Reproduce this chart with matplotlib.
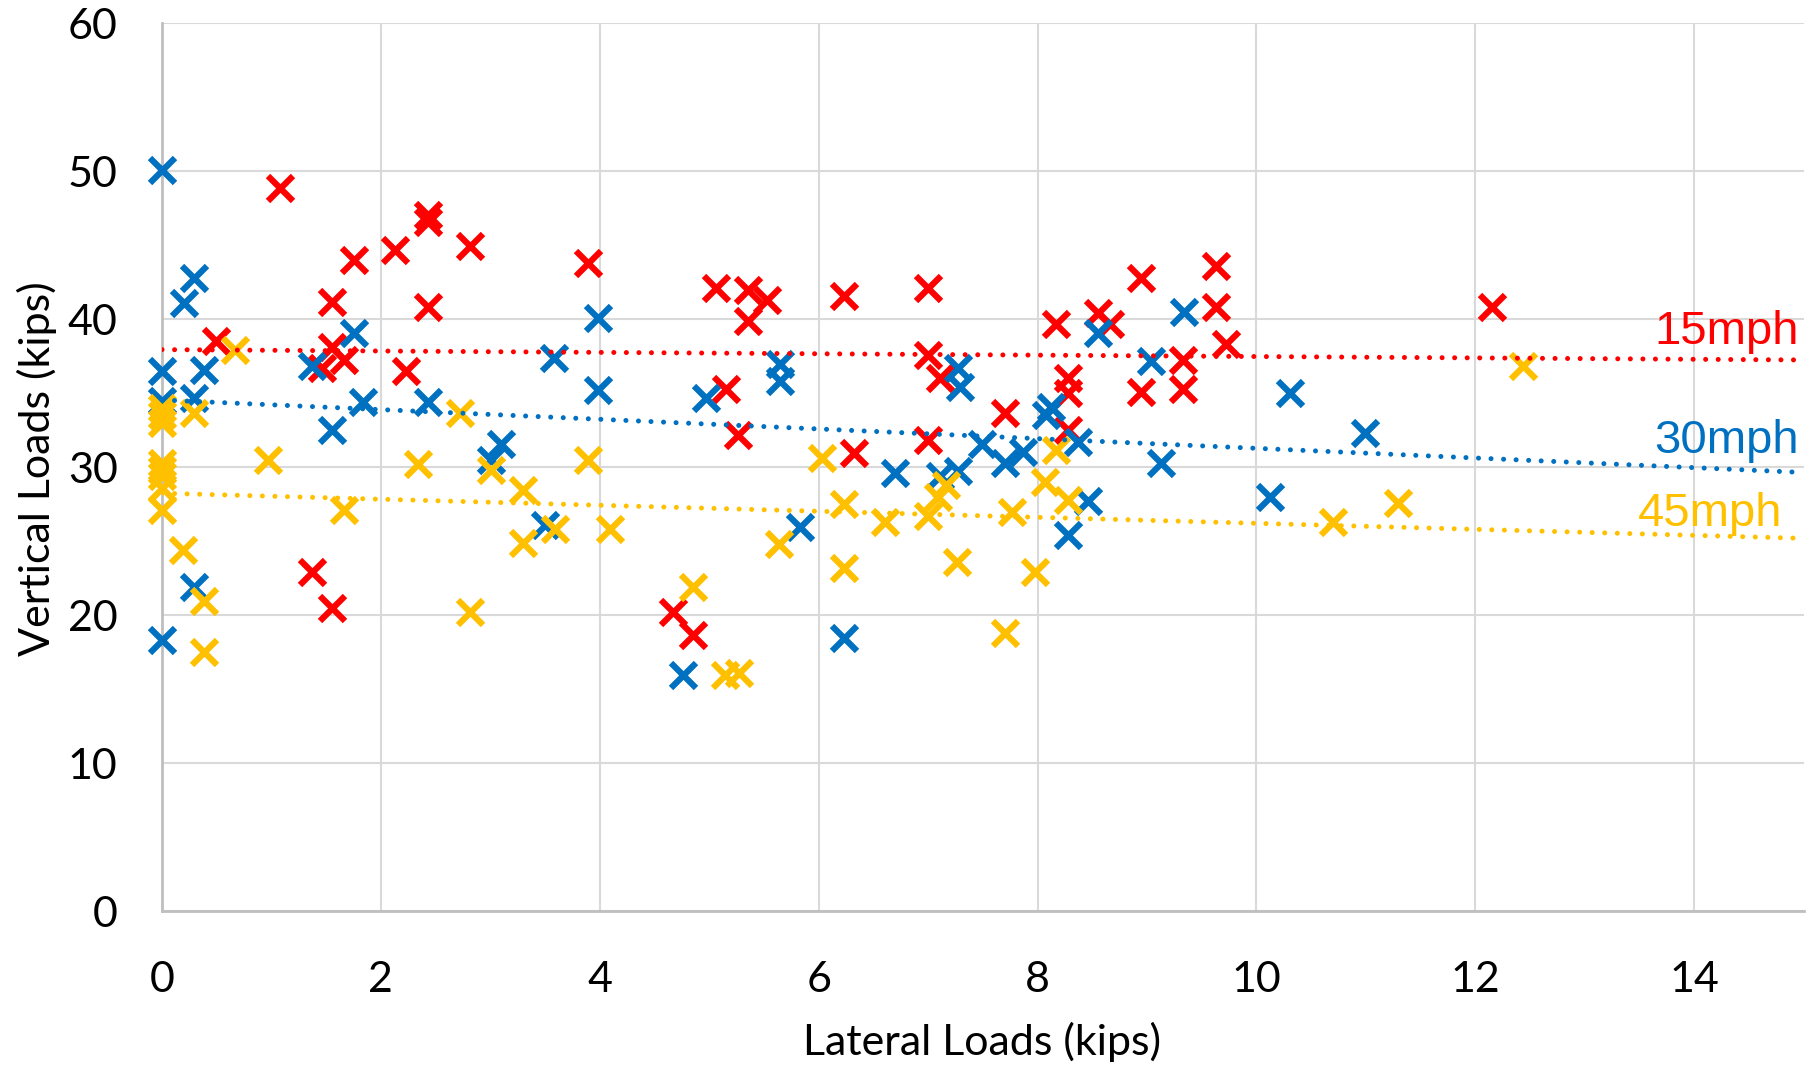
import matplotlib
matplotlib.use("Agg")
import matplotlib.pyplot as plt
import numpy as np

# ---------------- data ----------------
x_15 = [1.08, 2.43, 2.43, 2.81, 2.13, 1.75, 1.55, 2.43, 0.49, 1.55, 1.66, 1.46, 2.23, 1.37, 1.55,
        3.89, 5.06, 5.35, 5.53, 5.35, 6.23, 7.00, 7.00, 7.11, 5.15, 5.26, 7.00, 6.32, 4.67, 4.85,
        8.95, 9.63, 9.63, 8.17, 8.55, 8.66, 9.72, 9.33, 8.95, 9.33, 8.28, 8.28, 7.70, 8.28, 12.15]
y_15 = [48.9, 47.05, 46.6, 44.96, 44.7, 44.0, 41.2, 40.8, 38.5, 38.15, 37.26, 36.7, 36.5, 22.95, 20.5,
        43.8, 42.1, 42.0, 41.3, 39.85, 41.6, 42.1, 37.6, 36.0, 35.3, 32.2, 31.85, 30.95, 20.25, 18.7,
        42.8, 43.6, 40.8, 39.7, 40.4, 39.7, 38.3, 37.26, 35.1, 35.3, 36.0, 35.0, 33.65, 32.5, 40.8]

x_30 = [0.00, 0.29, 0.20, 1.75, 1.37, 0.00, 0.38, 3.58, 0.00, 0.29, 1.84, 2.43, 1.55, 3.10, 3.01,
        0.29, 0.00, 3.50, 3.98, 3.98, 5.65, 5.65, 4.97, 7.27, 7.29, 6.70, 7.11, 7.27, 4.76, 5.83,
        6.23, 9.34, 8.55, 9.04, 10.31, 8.12, 8.08, 8.37, 7.49, 7.87, 7.70, 9.13, 8.46, 8.28, 10.12, 10.99]
y_30 = [50.1, 42.8, 41.1, 39.06, 36.85, 36.5, 36.6, 37.4, 34.5, 34.7, 34.4, 34.4, 32.5, 31.6, 30.5,
        21.9, 18.3, 26.1, 40.07, 35.2, 37.0, 35.8, 34.7, 36.7, 35.45, 29.6, 29.4, 29.75, 16.0, 26.0,
        18.5, 40.5, 39.06, 37.2, 35.0, 34.1, 33.5, 31.7, 31.6, 31.06, 30.3, 30.3, 27.7, 25.4, 28.0, 32.3]

x_45 = [0.67, 0.00, 0.00, 0.00, 0.29, 2.72, 3.01, 0.97, 2.34, 0.00, 0.00, 0.00, 3.30, 0.00, 0.00,
        1.66, 0.19, 0.38, 0.38, 2.81, 3.30, 3.59, 3.89, 4.09, 4.85, 5.14, 5.27, 5.64, 6.03, 6.23,
        6.23, 6.61, 7.00, 7.09, 7.16, 7.26, 8.17, 8.07, 8.28, 7.77, 7.98, 7.70, 10.70, 11.29, 12.44]
y_45 = [37.9, 34.0, 33.5, 33.0, 33.65, 33.65, 29.8, 30.5, 30.2, 30.3, 29.8, 29.4, 28.5, 28.6, 27.1,
        27.1, 24.4, 21.0, 17.5, 20.25, 24.9, 25.8, 30.5, 25.8, 21.9, 16.0, 16.1, 24.8, 30.6, 27.5,
        23.2, 26.3, 26.7, 28.0, 28.8, 23.6, 31.2, 29.0, 27.8, 27.0, 22.95, 18.8, 26.3, 27.6, 36.85]

# linear trend lines (value at x=0 and x=15)
trend_x = [0, 15]
trend_15 = [37.95, 37.25]
trend_30 = [34.55, 29.65]
trend_45 = [28.25, 25.2]

series_labels = ["15mph", "30mph", "45mph"]
x_ticks = [0, 2, 4, 6, 8, 10, 12, 14]
y_ticks = [0, 10, 20, 30, 40, 50, 60]

colors = ["#FF0000", "#0070C0", "#FFC000"]

# ---------------- plot ----------------
fig = plt.figure(figsize=(18.16, 10.67), dpi=100)
ax = fig.add_axes([162 / 1816, 1 - 911.4 / 1067, (1803.6 - 162) / 1816, (911.4 - 23.2) / 1067])

tick_font = "Lato"
for xs, ys, c in zip([x_15, x_30, x_45], [y_15, y_30, y_45], colors):
    ax.plot(xs, ys, linestyle="none", marker="x", markersize=18, markeredgewidth=4.5,
            color=c, zorder=3, clip_on=False)

for tr, c in zip([trend_15, trend_30, trend_45], colors):
    ax.plot(trend_x, tr, linestyle=(0, (0.01, 2.5)), linewidth=3.6, color=c,
            dash_capstyle="round", solid_capstyle="round", zorder=4)

ax.set_xlim(0, 15)
ax.set_ylim(0, 60)
ax.set_xticks(x_ticks)
ax.set_yticks(y_ticks)
ax.grid(True, color="#D9D9D9", linewidth=1.5, zorder=0)
ax.set_axisbelow(True)
for s in ["top", "right"]:
    ax.spines[s].set_visible(False)
for s in ["left", "bottom"]:
    ax.spines[s].set_color("#BFBFBF")
    ax.spines[s].set_linewidth(2)
ax.tick_params(axis="both", length=0, labelsize=31)
ax.tick_params(axis="x", pad=36)
ax.tick_params(axis="y", pad=32)
for lab in ax.get_xticklabels() + ax.get_yticklabels():
    lab.set_fontfamily(tick_font)

# series labels at the end of the trend lines
label_pos = [(14.96, 39.15), (14.96, 31.8), (14.81, 26.85)]
for (lx, ly), txt, c in zip(label_pos, series_labels, colors):
    ax.text(lx, ly, txt, color=c, fontsize=34, fontfamily="Liberation Sans",
            ha="right", va="center", zorder=5)

fig.text(982 / 1816, 1 - 1042 / 1067, "Lateral Loads (kips)", fontsize=31,
         fontfamily=tick_font, ha="center", va="center")
fig.text(37 / 1816, 1 - 469 / 1067, "Vertical Loads (kips)", fontsize=31,
         fontfamily=tick_font, ha="center", va="center", rotation=90)

fig.savefig("out.png", dpi=100)
